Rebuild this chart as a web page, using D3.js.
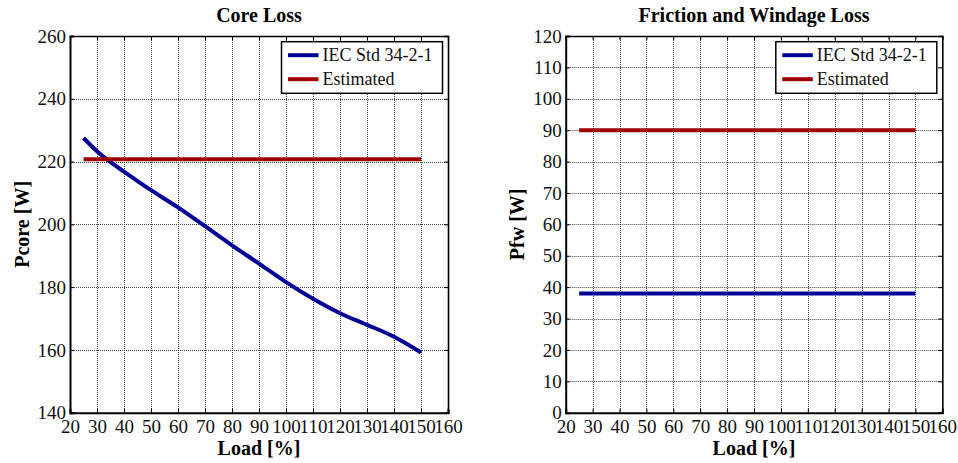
<!DOCTYPE html>
<html>
<head>
<meta charset="utf-8">
<script src="https://cdn.jsdelivr.net/npm/d3@7"></script>
<style>
  body { margin: 0; background: #fff; }
  svg { display: block; font-family: "Liberation Serif", serif; }
</style>
</head>
<body>
<div id="chart"></div>
<script>
// core loss
const loadCore = [25, 30, 35, 40, 50, 60, 70, 80, 90, 100, 110, 120, 130, 140, 150];
const pcoreIEC = [227.5, 223.3, 219.8, 216.8, 210.9, 205.4, 199.4, 193.3, 187.5, 181.6, 176.3, 171.7, 168.0, 164.2, 159.2];
const pcoreEst = [220.7, 220.7];

// friction and windage
const loadFw = [25, 150];
const pfwIEC = [38, 38];
const pfwEst = [90, 90];

const xTicks = [20, 30, 40, 50, 60, 70, 80, 90, 100, 110, 120, 130, 140, 150, 160];
const coreTicks = [140, 160, 180, 200, 220, 240, 260];
const fwTicks = [0, 10, 20, 30, 40, 50, 60, 70, 80, 90, 100, 110, 120];

const seriesNames = ["IEC Std 34-2-1", "Estimated"];
const colors = ["#000099", "#a00000"];

const width = 958, height = 463;

const svg = d3.select("#chart").append("svg")
    .attr("width", width)
    .attr("height", height);

function panel(opt) {
    const left = opt.left, right = opt.right, top = 36, bottom = 412.7;

    const x = d3.scaleLinear().domain([20, 160]).range([left, right]);
    const y = d3.scaleLinear().domain(opt.yDomain).range([bottom, top]);

    const g = svg.append("g");

    // dotted grid
    g.append("g").selectAll("line")
        .data(xTicks.slice(1, -1))
        .join("line")
        .attr("x1", d => Math.round(x(d)) + 0.5)
        .attr("x2", d => Math.round(x(d)) + 0.5)
        .attr("y1", top).attr("y2", bottom)
        .attr("stroke", "#444").attr("stroke-dasharray", "1,1");
    g.append("g").selectAll("line")
        .data(opt.yTicks.slice(1, -1))
        .join("line")
        .attr("y1", d => Math.round(y(d)) + 0.5)
        .attr("y2", d => Math.round(y(d)) + 0.5)
        .attr("x1", left).attr("x2", right)
        .attr("stroke", "#444").attr("stroke-dasharray", "1,1");

    // axes, ticks pointing inward like matlab
    const axB = g.append("g")
        .attr("transform", `translate(0,${bottom})`)
        .call(d3.axisBottom(x).tickValues(xTicks).tickSize(-4).tickPadding(7));
    const axT = g.append("g")
        .attr("transform", `translate(0,${top})`)
        .call(d3.axisTop(x).tickValues(xTicks).tickSize(-4).tickFormat(""));
    const axL = g.append("g")
        .attr("transform", `translate(${left},0)`)
        .call(d3.axisLeft(y).tickValues(opt.yTicks).tickSize(-4).tickPadding(4));
    const axR = g.append("g")
        .attr("transform", `translate(${right},0)`)
        .call(d3.axisRight(y).tickValues(opt.yTicks).tickSize(-4).tickFormat(""));

    [axB, axT, axL, axR].forEach(a => {
        a.selectAll("text").attr("font-size", 19).attr("font-family", "Liberation Serif").attr("fill", "#111");
        a.selectAll("line").attr("stroke", "#000");
        a.select(".domain").attr("stroke", "#000");
    });
    axB.select(".domain").attr("stroke-width", 2);
    axL.select(".domain").attr("stroke-width", 2);
    axT.select(".domain").attr("stroke-width", 1.3);
    axR.select(".domain").attr("stroke-width", 1.6);

    // lines
    const line = d3.line().curve(d3.curveMonotoneX).x(d => x(d[0])).y(d => y(d[1]));
    opt.series.forEach((s, i) => {
        g.append("path")
            .datum(s.xs.map((v, k) => [v, s.ys[k]]))
            .attr("fill", "none")
            .attr("stroke", colors[i])
            .attr("stroke-width", 4)
            .attr("d", line);
    });

    // title + labels
    const cx = (left + right) / 2;
    g.append("text")
        .attr("x", cx).attr("y", 22)
        .attr("text-anchor", "middle")
        .attr("font-size", 20).attr("font-weight", "bold")
        .text(opt.title);
    g.append("text")
        .attr("x", cx).attr("y", 455)
        .attr("text-anchor", "middle")
        .attr("font-size", 20).attr("font-weight", "bold")
        .text("Load [%]");
    g.append("text")
        .attr("transform", `translate(${left - 41.5},${(top + bottom) / 2}) rotate(-90)`)
        .attr("text-anchor", "middle")
        .attr("font-size", 20).attr("font-weight", "bold")
        .text(opt.ylabel);

    // legend
    const lw = 161, lh = 51.6;
    const lx = right - 5.5 - lw, ly = top + 5.7;
    const leg = g.append("g").attr("transform", `translate(${lx},${ly})`);
    leg.append("rect")
        .attr("width", lw).attr("height", lh)
        .attr("fill", "#fff").attr("stroke", "#000").attr("stroke-width", 1.5);
    seriesNames.forEach((name, i) => {
        const yy = 13.5 + i * 24;
        leg.append("line")
            .attr("x1", 6.5).attr("x2", 37)
            .attr("y1", yy).attr("y2", yy)
            .attr("stroke", colors[i]).attr("stroke-width", 4);
        leg.append("text")
            .attr("x", 41).attr("y", yy + 6)
            .attr("font-size", 18)
            .attr("fill", "#111")
            .text(name);
    });
}

panel({
    left: 70, right: 448,
    yDomain: [140, 260], yTicks: coreTicks,
    title: "Core Loss", ylabel: "Pcore [W]",
    series: [
        { xs: loadCore, ys: pcoreIEC },
        { xs: [loadCore[0], loadCore[loadCore.length - 1]], ys: pcoreEst }
    ]
});

panel({
    left: 565.7, right: 942.3,
    yDomain: [0, 120], yTicks: fwTicks,
    title: "Friction and Windage Loss", ylabel: "Pfw [W]",
    series: [
        { xs: loadFw, ys: pfwIEC },
        { xs: loadFw, ys: pfwEst }
    ]
});
</script>
</body>
</html>
